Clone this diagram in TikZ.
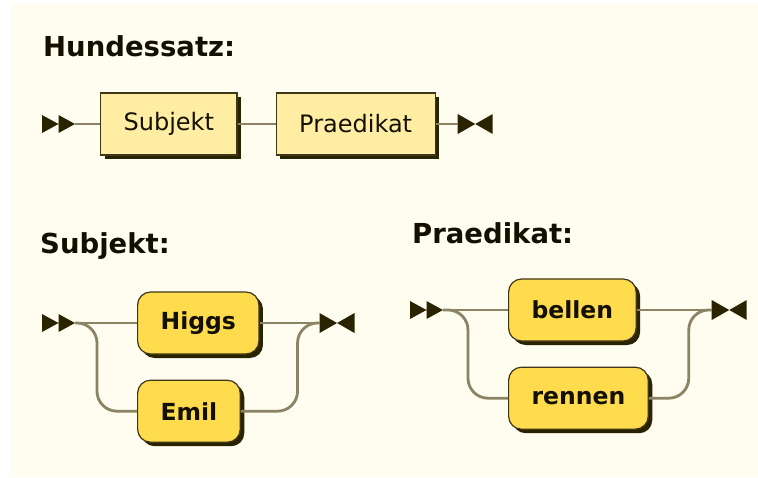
\documentclass[tikz,border=0pt]{standalone}
\usepackage{fontspec}
\setmainfont{DejaVu Sans}
\usepackage{xcolor}
\usetikzlibrary{positioning,shadows}

\definecolor{paper}{HTML}{FFFCF0}
\definecolor{ink}{HTML}{141000}
\definecolor{edge}{HTML}{3F3618}
\definecolor{shade}{HTML}{2A2300}
\definecolor{railc}{HTML}{8A8364}
\definecolor{paleyellow}{HTML}{FFEDA3}
\definecolor{gold}{HTML}{FFDB4D}

\tikzset{
railin/.pic={\fill[markfill] (-33,-9) -- (-16.5,0) -- (-33,9) -- cycle (-16.5,-9) -- (0,0) -- (-16.5,9) -- cycle;},
railout/.pic={\fill[markfill] (0,-10) -- (17.5,0) -- (0,10) -- cycle (35,-10) -- (17.5,0) -- (35,10) -- cycle;},
}

\begin{document}
\begin{tikzpicture}[
x=1pt, y=-1pt,
markfill/.style={fill=shade},
rail/.style={draw=railc, line width=2.8pt},
titlenode/.style={anchor=base west, inner sep=0pt, text=ink, font=\fontsize{27.5}{32}\selectfont\bfseries},
nonterm/.style={rectangle, draw=edge, fill=paleyellow, line width=1.2pt, inner xsep=23pt, minimum height=62pt, text=ink, font=\fontsize{24}{28}\selectfont, drop shadow={shadow xshift=4pt, shadow yshift=-4pt, fill=shade, opacity=1}},
term/.style={nonterm, rounded corners=13pt, fill=gold, font=\fontsize{23.5}{28}\selectfont\bfseries},
]
\useasboundingbox (0,0) rectangle (758,477);
\fill[paper] (11,4) rectangle (758,477);

%Titles
\node[titlenode] (tsatz) at (43,56)  {Hundessatz:};
\node[titlenode] (tsubj) at (40,253) {Subjekt:};
\node[titlenode] (tpraed) at (412,243) {Praedikat:};

%Hundessatz
\coordinate (s0) at (75,124);
\pic at (s0) {railin};
\node[nonterm] (subj)  [right=25pt of s0, anchor=west]       {Subjekt};
\node[nonterm] (praed) [right=38pt of subj.east, anchor=west] {Praedikat};
\coordinate[right=22pt of praed.east] (e0);
\pic at (e0) {railout};
\draw[rail] (s0) -- (subj);
\draw[rail] (subj) -- (praed);
\draw[rail] (praed) -- (e0);

%Subjekt
\coordinate (s1) at (75,323);
\pic at (s1) {railin};
\node[term] (higgs) [right=62pt of s1, anchor=west] {Higgs};
\node[term] (emil)  [below=25pt of higgs.south west, anchor=north west] {Emil};
\coordinate[right=60pt of higgs.east] (e1);
\pic at (e1) {railout};
\draw[rail] (s1) -- (higgs);
\draw[rail] (higgs) -- (e1);
\draw[rail, rounded corners=20pt] (s1) -- ++(22,0) |- (emil);
\draw[rail, rounded corners=20pt] (emil) -| ([xshift=-22pt]e1) -- (e1);

%Praedikat
\coordinate (s2) at (443,310);
\pic at (s2) {railin};
\node[term] (bellen) [right=65pt of s2, anchor=west] {bellen};
\node[term] (rennen) [below=25pt of bellen.south west, anchor=north west] {rennen};
\coordinate[right=75pt of bellen.east] (e2);
\pic at (e2) {railout};
\draw[rail] (s2) -- (bellen);
\draw[rail] (bellen) -- (e2);
\draw[rail, rounded corners=20pt] (s2) -- ++(25,0) |- (rennen);
\draw[rail, rounded corners=20pt] (rennen) -| ([xshift=-23pt]e2) -- (e2);
\end{tikzpicture}
\end{document}
